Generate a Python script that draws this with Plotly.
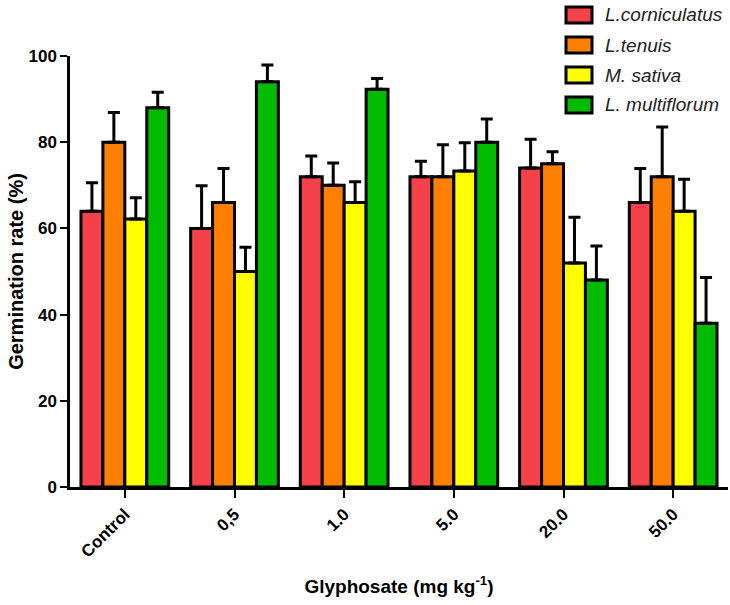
import plotly.graph_objects as go

# Glyphosate treatments (x categories)
doses = ["Control", "0,5", "1.0", "5.0", "20.0", "50.0"]

# Species shown in the legend
species = ["L.corniculatus", "L.tenuis", "M. sativa", "L. multiflorum"]
colors = ["#F5424A", "#FF8000", "#FFFF00", "#00BB00"]

# Mean germination rate (%) per species and dose
germ_corniculatus = [64, 60, 72, 72, 74, 66]
germ_tenuis = [80, 66, 70, 72, 75, 72]
germ_sativa = [62.2, 50, 66, 73.3, 52, 64]
germ_multiflorum = [88, 94, 92.3, 80, 48, 38]

# Upper error (SD) per species and dose
err_corniculatus = [6.6, 9.9, 4.8, 3.6, 6.7, 7.9]
err_tenuis = [6.9, 7.9, 5.2, 7.4, 2.8, 11.5]
err_sativa = [4.9, 5.6, 4.8, 6.6, 10.6, 7.4]
err_multiflorum = [3.6, 3.9, 2.5, 5.4, 7.9, 10.6]

means = [germ_corniculatus, germ_tenuis, germ_sativa, germ_multiflorum]
errors = [err_corniculatus, err_tenuis, err_sativa, err_multiflorum]

FONT = "Liberation Sans, Arial, sans-serif"
W, H = 730, 605
M_L, M_R, M_T, M_B = 70, 2, 56, 118

fig = go.Figure()
for name, col, y, e in zip(species, colors, means, errors):
    fig.add_trace(go.Bar(
        x=doses, y=y, name=name,
        marker=dict(color=col, line=dict(color="black", width=3)),
        error_y=dict(type="data", array=e, arrayminus=[0] * len(e),
                     symmetric=False, color="black", thickness=3, width=6),
        showlegend=False,
    ))

# Hand-drawn legend block in the upper right corner
plot_w = W - M_L - M_R
plot_h = H - M_T - M_B
def px_x(px):
    return (px - M_L) / plot_w
def px_y(py):
    return (H - M_B - py) / plot_h

row_centers = [15, 45, 75, 105]
for name, col, cy in zip(species, colors, row_centers):
    fig.add_shape(type="rect", xref="paper", yref="paper",
                  x0=px_x(566), x1=px_x(592), y0=px_y(cy + 8), y1=px_y(cy - 8),
                  fillcolor=col, line=dict(color="black", width=3))
    fig.add_annotation(xref="paper", yref="paper", x=px_x(603), y=px_y(cy),
                       text="<i>" + name + "</i>", showarrow=False,
                       xanchor="left", yanchor="middle",
                       font=dict(family=FONT, size=19, color="#222"))

fig.update_layout(
    width=W, height=H,
    margin=dict(l=M_L, r=M_R, t=M_T, b=M_B),
    paper_bgcolor="white", plot_bgcolor="white",
    barmode="group", bargap=0.2, bargroupgap=0,
    font=dict(family=FONT, color="black"),
    xaxis=dict(
        range=[-0.5, 5.5], showline=True, linecolor="black", linewidth=2.5,
        ticks="outside", ticklen=8, tickwidth=2, tickcolor="black",
        tickangle=-45, tickfont=dict(family=FONT, size=17, color="black", weight="bold"),
        title=dict(text="<b>Glyphosate (mg kg<sup>-1</sup>)</b>",
                   font=dict(family=FONT, size=19, color="black"), standoff=20),
        automargin=False,
    ),
    yaxis=dict(
        range=[0, 100], tickvals=[0, 20, 40, 60, 80, 100],
        showline=True, linecolor="black", linewidth=2.5, showgrid=False, zeroline=False,
        ticks="outside", ticklen=7, tickwidth=2, tickcolor="black",
        tickfont=dict(family=FONT, size=17, color="black", weight="bold"),
        title=dict(text="<b>Germination rate (%)</b>",
                   font=dict(family=FONT, size=20, color="black"), standoff=0),
        automargin=False,
    ),
)

fig.write_html("out.html")
